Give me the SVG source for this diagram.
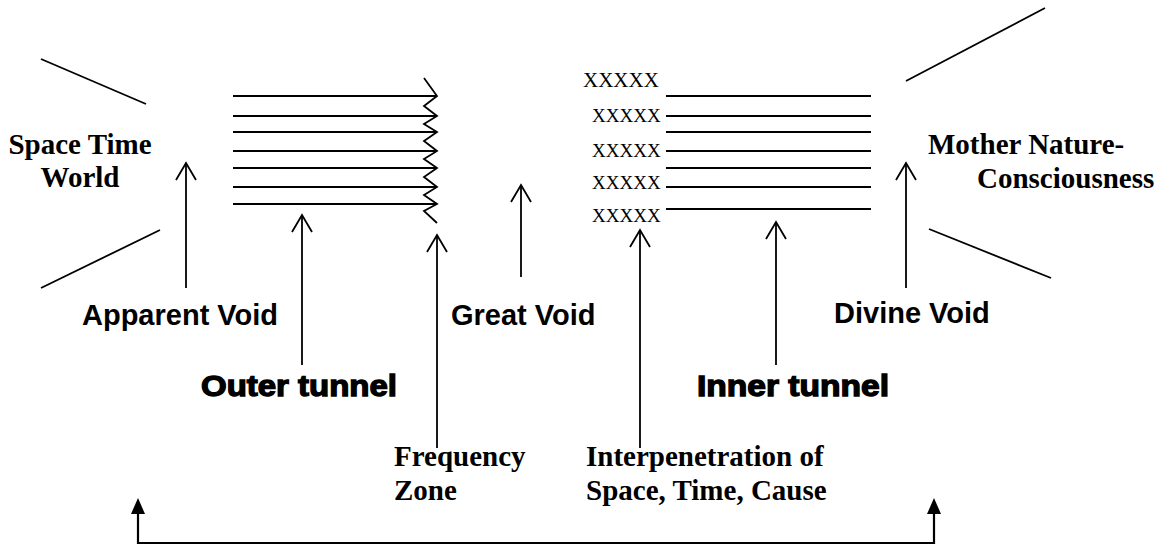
<svg xmlns="http://www.w3.org/2000/svg" width="1159" height="548" viewBox="0 0 1159 548">
<style>
.ln{stroke:#000;stroke-width:1.8;fill:none;stroke-linecap:butt}
.ser{font-family:"Liberation Serif","Times New Roman",serif;font-weight:bold;font-size:29px;fill:#000}
.xx{font-family:"Liberation Serif","Times New Roman",serif;font-size:19px;fill:#000}
.san{font-family:"Liberation Sans",Arial,sans-serif;font-weight:bold;font-size:29px;fill:#000}
.heavy{font-family:"Liberation Sans",Arial,sans-serif;font-weight:bold;font-size:29px;fill:#000;stroke:#000;stroke-width:1.3}
.open{stroke:#000;stroke-width:1.8;fill:none}
.solid{fill:#000;stroke:none}
</style>
<rect width="1159" height="548" fill="#fff"/>

<g id="space-time-world">
  <line class="ln" x1="41" y1="59" x2="146" y2="104"/>
  <line class="ln" x1="41" y1="288" x2="160" y2="230"/>
  <text class="ser" x="80" y="154" text-anchor="middle">Space Time</text>
  <text class="ser" x="80" y="187" text-anchor="middle">World</text>
</g>

<g id="outer-tunnel-lines">
  <line class="ln" x1="233" y1="96" x2="437" y2="96"/>
  <line class="ln" x1="233" y1="116" x2="437" y2="116"/>
  <line class="ln" x1="233" y1="132" x2="437" y2="132"/>
  <line class="ln" x1="233" y1="151" x2="437" y2="151"/>
  <line class="ln" x1="233" y1="168" x2="437" y2="168"/>
  <line class="ln" x1="233" y1="187" x2="437" y2="187"/>
  <line class="ln" x1="233" y1="204" x2="437" y2="204"/>
</g>

<g id="frequency-zigzag">
  <polyline class="ln" points="424,78 437,96 424,106 437,116 424,124 437,132 424,141 437,151 424,159 437,168 424,177 437,187 424,195 437,204 424,211 437,223"/>
</g>

<g id="interpenetration-xs">
  <text class="xx" x="583" y="87" style="font-size:21px">XXXXX</text>
  <text class="xx" x="592" y="122">XXXXX</text>
  <text class="xx" x="592" y="157">XXXXX</text>
  <text class="xx" x="592" y="189">XXXXX</text>
  <text class="xx" x="592" y="222">XXXXX</text>
</g>

<g id="inner-tunnel-lines">
  <line class="ln" x1="666" y1="96" x2="871" y2="96"/>
  <line class="ln" x1="666" y1="116" x2="871" y2="116"/>
  <line class="ln" x1="666" y1="132" x2="871" y2="132"/>
  <line class="ln" x1="666" y1="151" x2="871" y2="151"/>
  <line class="ln" x1="666" y1="168" x2="871" y2="168"/>
  <line class="ln" x1="666" y1="187" x2="871" y2="187"/>
  <line class="ln" x1="666" y1="209" x2="871" y2="209"/>
</g>

<g id="mother-nature">
  <line class="ln" x1="906" y1="81" x2="1045" y2="8"/>
  <line class="ln" x1="929" y1="229" x2="1051" y2="278"/>
  <text class="ser" x="928" y="154">Mother Nature-</text>
  <text class="ser" x="977" y="188">Consciousness</text>
</g>

<g id="labels">
  <text class="san" x="82" y="325">Apparent Void</text>
  <text class="san" x="451" y="325">Great Void</text>
  <text class="san" x="834" y="323">Divine Void</text>
  <text class="heavy" x="201" y="396" textLength="196" lengthAdjust="spacingAndGlyphs">Outer tunnel</text>
  <text class="heavy" x="697" y="396" textLength="192" lengthAdjust="spacingAndGlyphs">Inner tunnel</text>
  <text class="ser" x="394" y="466">Frequency</text>
  <text class="ser" x="394" y="500">Zone</text>
  <text class="ser" x="586" y="466">Interpenetration of</text>
  <text class="ser" x="586" y="500">Space, Time, Cause</text>
</g>

<g id="connectors">
  <line class="ln" x1="186" y1="164" x2="186" y2="288"/>
  <polyline class="open" points="176,180 186,163 196,180"/>
  <line class="ln" x1="302" y1="216" x2="302" y2="365"/>
  <polyline class="open" points="292,232 302,215 312,232"/>
  <line class="ln" x1="437" y1="236" x2="437" y2="448"/>
  <polyline class="open" points="427,252 437,235 447,252"/>
  <line class="ln" x1="521" y1="186" x2="521" y2="277"/>
  <polyline class="open" points="511,202 521,185 531,202"/>
  <line class="ln" x1="640" y1="231" x2="640" y2="448"/>
  <polyline class="open" points="630,247 640,230 650,247"/>
  <line class="ln" x1="776" y1="223" x2="776" y2="365"/>
  <polyline class="open" points="766,239 776,222 786,239"/>
  <line class="ln" x1="906" y1="164" x2="906" y2="288"/>
  <polyline class="open" points="896,180 906,163 916,180"/>
  <polyline class="ln" points="138,512 138,543 934,543 934,512" style="stroke-width:2.2"/>
  <polygon class="solid" points="138,498 131,514 145,514"/>
  <polygon class="solid" points="934,498 927,514 941,514"/>
</g>
</svg>
